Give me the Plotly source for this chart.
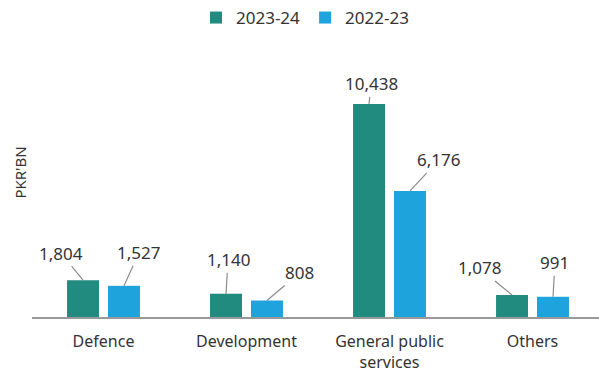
import plotly.graph_objects as go

categories = ["Defence", "Development", "General public<br>services", "Others"]
series_names = ["2023-24", "2022-23"]
values_2023_24 = [1804, 1140, 10438, 1078]
values_2022_23 = [1527, 808, 6176, 991]
colors = ["#218b80", "#1fa3dc"]

# label offsets (pixels) for leader-line annotations
offsets_2023_24 = [(-22, -27), (2, -34), (2, -20), (-33, -27)]
offsets_2022_23 = [(15, -33), (33, -28), (29, -31), (2, -34)]

bargap = 0.427
bargroupgap = 0.22

fig = go.Figure()
for name, vals, col in zip(series_names, [values_2023_24, values_2022_23], colors):
    fig.add_trace(go.Bar(name=name, x=categories, y=vals, marker_color=col,
                         marker_line_width=0))

slot = (1 - bargap) / 2
annotations = []
for s, (vals, offs) in enumerate([(values_2023_24, offsets_2023_24), (values_2022_23, offsets_2022_23)]):
    shift = (-0.5 + s) * slot
    for i, (v, (ax, ay)) in enumerate(zip(vals, offs)):
        annotations.append(dict(
            x=i + shift, y=v, xref="x", yref="y",
            text=f"{v:,}", showarrow=True, arrowhead=0, arrowwidth=1.2,
            arrowcolor="#8c8c8c", ax=ax, ay=ay, standoff=0,
            font=dict(size=17, color="#333333")))

plot_w = 599 - 32
plot_h = 373 - 71 - 56
annotations.append(dict(
    x=(20 - 32) / plot_w, y=(373 - 56 - 172) / plot_h, xref="paper", yref="paper",
    xanchor="center", yanchor="middle", text="PKR'BN", showarrow=False,
    textangle=-90, font=dict(size=15, color="#333333")))

fig.update_layout(
    width=599, height=373,
    margin=dict(l=32, r=0, t=71, b=56),
    paper_bgcolor="white", plot_bgcolor="white",
    font=dict(family="Noto Sans", size=17, color="#333333"),
    barmode="group", bargap=bargap, bargroupgap=bargroupgap,
    legend=dict(orientation="h", x=(305 - 32) / plot_w, xanchor="center",
                y=1 + (71 + 1) / plot_h, yanchor="top", font=dict(size=17),
                itemwidth=30, traceorder="normal"),
    xaxis=dict(type="category", range=[-0.5, 3.465], showline=True,
               linecolor="#999999", linewidth=2, ticks="", showgrid=False,
               ticklabelstandoff=9, automargin=False,
               tickfont=dict(size=16, color="#333333")),
    yaxis=dict(range=[0, 12000], showticklabels=False, showgrid=False,
               zeroline=False, showline=False, ticks="", automargin=False),
    annotations=annotations,
)

fig.write_html("out.html")
